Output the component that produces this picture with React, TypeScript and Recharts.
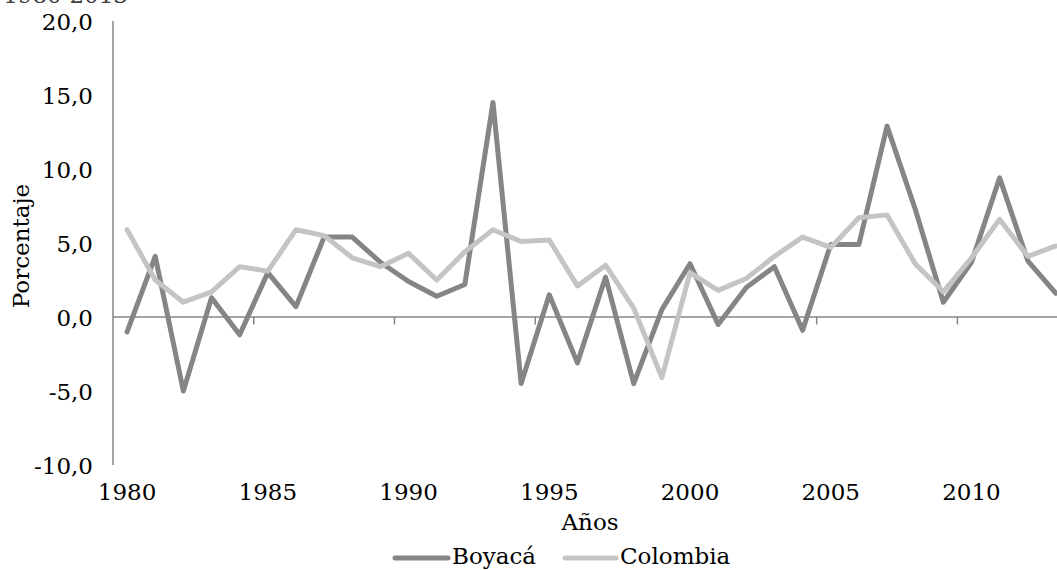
import { LineChart, Line, XAxis, YAxis, ReferenceLine } from 'recharts'

const years = [
  1980, 1981, 1982, 1983, 1984, 1985, 1986, 1987, 1988, 1989, 1990, 1991,
  1992, 1993, 1994, 1995, 1996, 1997, 1998, 1999, 2000, 2001, 2002, 2003,
  2004, 2005, 2006, 2007, 2008, 2009, 2010, 2011, 2012, 2013,
]

const boyaca = [
  -1.0, 4.1, -5.0, 1.3, -1.2, 3.0, 0.7, 5.4, 5.4, 3.7, 2.4, 1.4,
  2.2, 14.5, -4.5, 1.5, -3.1, 2.7, -4.5, 0.5, 3.6, -0.5, 2.0, 3.4,
  -0.9, 4.9, 4.9, 12.9, 7.3, 1.0, 3.7, 9.4, 3.8, 1.6,
]

const colombia = [
  5.9, 2.5, 1.0, 1.7, 3.4, 3.1, 5.9, 5.5, 4.0, 3.4, 4.3, 2.5,
  4.4, 5.9, 5.1, 5.2, 2.1, 3.5, 0.6, -4.1, 3.0, 1.8, 2.6, 4.1,
  5.4, 4.7, 6.7, 6.9, 3.6, 1.7, 4.0, 6.6, 4.1, 4.8,
]

const yearLabels = [1980, 1985, 1990, 1995, 2000, 2005, 2010]
const tickMarks = [1984.5, 1989.5, 1994.5, 1999.5, 2004.5, 2009.5]
const yTicks = [-10, -5, 0, 5, 10, 15, 20]

const series = [
  { key: 'boyaca', name: 'Boyacá', color: '#858585' },
  { key: 'colombia', name: 'Colombia', color: '#c4c4c4' },
]

const data = years.map((year, i) => ({
  year,
  boyaca: boyaca[i],
  colombia: colombia[i],
}))

const FONT = 'DejaVu Serif'
const AXIS = '#868686'

const fmt = (v: number) => v.toFixed(1).replace('.', ',')

export default function App() {
  return (
    <div
      style={{
        position: 'absolute',
        left: 0,
        top: 0,
        width: 1057,
        height: 570,
        overflow: 'hidden',
        background: '#fff',
        fontFamily: FONT,
      }}
    >
      <LineChart
        width={1080}
        height={570}
        data={data}
        margin={{ top: 21, right: 10, bottom: 0, left: 0 }}
        style={{ fontFamily: FONT }}
      >
        <XAxis
          dataKey="year"
          type="number"
          domain={[1979.5, 2013.5]}
          ticks={yearLabels}
          interval={0}
          height={105}
          axisLine={false}
          tickLine={false}
          tickSize={0}
          tickMargin={0}
          tick={({ x, y, payload }: any) => (
            <text x={x} y={y + 35} textAnchor="middle" fontSize={23} fill="#000" fontFamily={FONT}>
              {payload.value}
            </text>
          )}
        />
        <YAxis
          type="number"
          domain={[-10, 20]}
          ticks={yTicks}
          interval={0}
          width={113}
          axisLine={{ stroke: AXIS, strokeWidth: 1.5 }}
          tickLine={false}
          tickSize={0}
          tickMargin={20}
          tick={({ x, y, payload }: any) => (
            <text x={x} y={y + 9} textAnchor="end" fontSize={23} fill="#000" fontFamily={FONT}>
              {fmt(payload.value)}
            </text>
          )}
        />
        <ReferenceLine y={0} stroke={AXIS} strokeWidth={1.5} />
        {tickMarks.map((t) => (
          <ReferenceLine
            key={t}
            segment={[
              { x: t, y: 0 },
              { x: t, y: -0.5 },
            ]}
            stroke={AXIS}
            strokeWidth={1.5}
          />
        ))}
        {series.map((s) => (
          <Line
            key={s.key}
            type="linear"
            dataKey={s.key}
            name={s.name}
            stroke={s.color}
            strokeWidth={5}
            strokeLinejoin="round"
            strokeLinecap="round"
            dot={false}
            activeDot={false}
            isAnimationActive={false}
          />
        ))}
      </LineChart>

      <svg
        width={1057}
        height={570}
        style={{ position: 'absolute', left: 0, top: 0, pointerEvents: 'none' }}
      >
        <text x={128} y={3} textAnchor="end" fontSize={23} fill="#404040" fontFamily={FONT}>
          1980-2013
        </text>
        <text
          x={29}
          y={246}
          transform="rotate(-90 29 246)"
          textAnchor="middle"
          fontSize={23}
          fill="#000"
          fontFamily={FONT}
        >
          Porcentaje
        </text>
        <text x={590} y={530} textAnchor="middle" fontSize={23} fill="#000" fontFamily={FONT}>
          Años
        </text>
        {/* legend */}
        <line x1={395} y1={558} x2={448} y2={558} stroke={series[0].color} strokeWidth={5} strokeLinecap="round" />
        <text x={452} y={564} fontSize={23} fill="#000" fontFamily={FONT}>
          {series[0].name}
        </text>
        <line x1={565} y1={558} x2={616} y2={558} stroke={series[1].color} strokeWidth={5} strokeLinecap="round" />
        <text x={620} y={564} fontSize={23} fill="#000" fontFamily={FONT}>
          {series[1].name}
        </text>
      </svg>
    </div>
  )
}
